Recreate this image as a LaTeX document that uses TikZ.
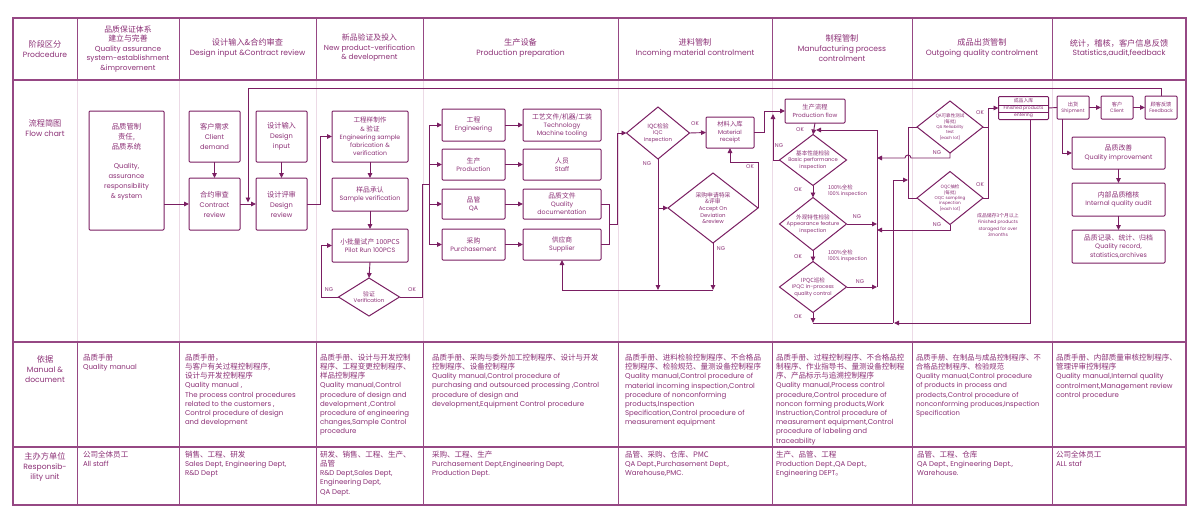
\documentclass[tikz,border=0pt]{standalone}
\usepackage{fontspec}
\setmainfont{Poppins}
\newfontfamily\cjk{Noto Sans CJK SC}[Scale=1.08]
\usetikzlibrary{arrows.meta,shapes.geometric,calc}
\definecolor{ln}{RGB}{122,30,98}
\definecolor{tb}{RGB}{150,72,132}
\definecolor{tx}{RGB}{140,48,118}
\definecolor{lt}{RGB}{236,218,230}
\newcommand{\zh}[1]{{\cjk #1}}
\newcommand{\fs}[2]{\fontsize{#1}{#2}\selectfont}
\begin{document}
\begin{tikzpicture}[x=1pt,y=-1pt,
  every node/.style={text=tx, inner sep=0pt, outer sep=0pt},
  hd/.style={align=center, font=\fs{7.6}{9.6}},
  cell/.style={anchor=north west, align=left, font=\fs{7}{9.2}},
  bx/.style={draw=ln, line width=1pt, rounded corners=1pt, align=center, font=\fs{6.3}{8}},
  sbx/.style={bx, font=\fs{4.6}{5.8}},
  dm/.style={draw=ln, line width=1pt, diamond},
  dt/.style={align=center, font=\fs{5.4}{6.6}},
  sdt/.style={align=center, font=\fs{4.2}{5.3}},
  lbl/.style={font=\fs{5.5}{6.5}},
  cn/.style={draw=ln, line width=0.9pt},
  arr/.style={cn, -{Triangle[length=5pt,width=4.6pt]}}]
\fill[white] (0,0) rectangle (1200,522);
\useasboundingbox (0,0) rectangle (1200,522);
% table
\foreach \x in {77,179,316,423,618,772,912,1052}{
  \draw[tb, line width=1pt] (\x,18) -- (\x,80);
  \draw[lt, line width=1pt] (\x,80) -- (\x,342);
  \draw[tb, line width=1pt] (\x,342) -- (\x,505);}
\draw[tb, line width=1.2pt] (13,80) -- (1186,80);
\draw[tb, line width=1.2pt] (13,342) -- (1186,342);
\draw[tb, line width=1.2pt] (13,447) -- (1186,447);
\draw[tb, line width=1.3pt] (13,18) rectangle (1186,505);
% header
\node[hd] (h1) at (45,49) {\zh{阶段区分}\\Prodcedure};
\node[hd, font=\fs{7.3}{9.5}] (h2) at (128,49) {\zh{品质保证体系}\\\zh{建立与完善}\\Quality assurance\\system-establishment\\\&improvement};
\node[hd] (h3) at (247.5,48) {\zh{设计输入\&合约审查}\\Design input \&Contract review};
\node[hd, font=\fs{7.3}{9.6}] (h4) at (369.5,48) {\zh{新品验证及投入}\\New product-verification\\\& development};
\node[hd] (h5) at (520.5,48) {\zh{生产设备}\\Production preparation};
\node[hd] (h6) at (695,48) {\zh{进料管制}\\Incoming material controlment};
\node[hd] (h7) at (842,48) {\zh{制程管制}\\Manufacturing process\\controlment};
\node[hd] (h8) at (982,48) {\zh{成品出货管制}\\Outgoing quality controlment};
\node[hd] (h9) at (1119,48) {\zh{统计，稽核，客户信息反馈}\\Statistics,audit,feedback};
\node[hd] (r2) at (45,128) {\zh{流程简图}\\Flow chart};
\node[hd] (r3) at (45,369) {\zh{依据}\\Manual \&\\document};
\node[hd] (r4) at (45,467) {\zh{主办方单位}\\Responsib-\\ility unit};
% manual row
\node[cell] (m2) at (83,354) {\zh{品质手册}\\Quality manual};
\node[cell] (m3) at (185,354) {\zh{品质手册，}\\\zh{与客户有关过程控制程序,}\\\zh{设计与开发控制程序}\\Quality manual ,\\The process control procedures\\related to the customers ,\\Control procedure of design\\and development};
\node[cell] (m4) at (320,354) {\zh{品质手册、设计与开发控制}\\\zh{程序、工程变更控制程序、}\\\zh{样品控制程序}\\Quality manual,Control\\procedure of design and\\development ,Control\\procedure of engineering\\changes,Sample Control\\procedure};
\node[cell] (m5) at (432,354) {\zh{品质手册、采购与委外加工控制程序、设计与开发}\\\zh{控制程序、设备控制程序}\\Quality manual,Control procedure of\\purchasing and outsourced processing ,Control\\procedure of design and\\development,Equipment Control procedure};
\node[cell] (m6) at (625,354) {\zh{品质手册、进料检验控制程序、不合格品}\\\zh{控制程序、检验规范、量测设备控制程序}\\Quality manual,Control procedure of\\material incoming inspection,Control\\procedure of nonconforming\\products,Inspection\\Specification,Control procedure of\\measurement equipment};
\node[cell] (m7) at (776,354) {\zh{品质手册、过程控制程序、不合格品控}\\\zh{制程序、作业指导书、量测设备控制程}\\\zh{序、产品标示与追溯控制程序}\\Quality manual,Process control\\procedure,Control procedure of\\noncon forming products,Work\\Instruction,Control procedure of\\measurement equipment,Control\\procedure of labeling and\\traceability};
\node[cell, font=\fs{6.8}{9.2}] (m8) at (916,354) {\zh{品质手册、在制品与成品控制程序、不}\\\zh{合格品控制程序、检验规范}\\Quality manual,Control procedure\\of products in process and\\prodects,Control procedure of\\nonconforming produces,Inspection\\Specification};
\node[cell] (m9) at (1056,354) {\zh{品质手册、内部质量审核控制程序、}\\\zh{管理评审控制程序}\\Quality manual,Internal quality\\controlment,Management review\\control procedure};
% responsibility row
\node[cell] (s2) at (83,451) {\zh{公司全体员工}\\All staff};
\node[cell] (s3) at (185,451) {\zh{销售、工程、研发}\\Sales Dept, Engineering Dept,\\R\&D Dept};
\node[cell] (s4) at (320,451) {\zh{研发、销售、工程、生产、}\\\zh{品管}\\R\&D Dept,Sales Dept,\\Engineering Dept,\\QA Dept.};
\node[cell] (s5) at (432,451) {\zh{采购、工程、生产}\\Purchasement Dept,Engineering Dept,\\Production Dept.};
\node[cell] (s6) at (625,451) {\zh{品管、采购、仓库、PMC}\\QA Dept.,Purchasement Dept.,\\Warehouse,PMC.};
\node[cell] (s7) at (776,451) {\zh{生产、品管、工程}\\Production Dept.,QA Dept.,\\Engineering DEPT\zh{。}};
\node[cell] (s8) at (917,451) {\zh{品管、工程、仓库}\\QA Dept., Engineering Dept.,\\Warehouse.};
\node[cell] (s9) at (1056,451) {\zh{公司全体员工}\\ALL staf};
% ---- flow chart ----
% col 2
\node[bx, minimum width=75, minimum height=119] (qa) at (126.5,170.5) {};
\node[align=center, font=\fs{6.8}{10}] (qat) at (126.5,162) {\zh{品质管制}\\\zh{责任,}\\\zh{品质系统}\\[9pt]Quality,\\assurance\\responsibility\\\& system};
% col 3
\node[bx, minimum width=51, minimum height=51, font=\fs{6.7}{10}] (cd) at (214.5,136.5) {\zh{客户需求}\\Client\\demand};
\node[bx, minimum width=51, minimum height=52, font=\fs{6.7}{10}] (cr) at (214.5,204) {\zh{合约审查}\\Contract\\review};
\node[bx, minimum width=51, minimum height=51, font=\fs{6.7}{10}] (di) at (281.5,136.5) {\zh{设计输入}\\Design\\input};
\node[bx, minimum width=51, minimum height=52, font=\fs{6.7}{10}] (dr) at (281.5,204) {\zh{设计评审}\\Design\\review};
% col 4
\node[bx, minimum width=76, minimum height=51, font=\fs{6.1}{8.2}] (es) at (370,136.5) {\zh{工程样制作}\\\& \zh{验证}\\Engineering sample\\fabrication \&\\verification};
\node[bx, minimum width=76, minimum height=33] (sv) at (370,194.5) {\zh{样品承认}\\Sample verification};
\node[bx, minimum width=76, minimum height=33] (pr) at (370,245.5) {\zh{小批量试产 100PCS}\\Pilot Run 100PCS};
\node[dm, minimum width=61, minimum height=38] (ver) at (369,297) {};
\node[dt] (vert) at (ver) {\zh{验证}\\Verification};
% col 5
\node[bx, minimum width=63, minimum height=32] (eng) at (473.5,125) {\zh{工程}\\Engineering};
\node[bx, minimum width=63, minimum height=31] (prod) at (473.5,164.5) {\zh{生产}\\Production};
\node[bx, minimum width=63, minimum height=30] (qa2) at (473.5,204) {\zh{品管}\\QA};
\node[bx, minimum width=63, minimum height=31] (pur) at (473.5,244.5) {\zh{采购}\\Purchasement};
\node[bx, minimum width=78, minimum height=32] (tech) at (562,125) {\zh{工艺文件/机器/工装}\\Technology\\Machine tooling};
\node[bx, minimum width=78, minimum height=31] (staff) at (562,164.5) {\zh{人员}\\Staff};
\node[bx, minimum width=78, minimum height=30] (qdoc) at (562,204) {\zh{品质文件}\\Quality\\documentation};
\node[bx, minimum width=78, minimum height=31] (sup) at (562,244.5) {\zh{供应商}\\Supplier};
% col 6
\node[dm, minimum width=63, minimum height=52] (iqc) at (658,133) {};
\node[dt] (iqct) at (iqc) {\zh{IQC检验}\\IQC\\Inspection};
\node[bx, minimum width=48, minimum height=31, font=\fs{5.8}{7.4}] (mr) at (730,132.5) {\zh{材料入库}\\Material\\receipt};
\node[dm, minimum width=90, minimum height=70] (aod) at (713,208) {};
\node[dt] (aodt) at (aod) {\zh{采购申请特采}\\\zh{\&评审}\\Accept On\\Deviation\\\&review};
% col 7
\node[bx, minimum width=60, minimum height=24, font=\fs{5.8}{7.4}] (pf) at (815,111) {\zh{生产流程}\\Production flow};
\node[dm, minimum width=67, minimum height=51] (d1) at (813,160) {};
\node[dt, font=\fs{5.2}{6.6}] (d1t) at (d1) {\zh{基本性能检验}\\Basic performance\\inspection};
\node[dm, minimum width=67, minimum height=53] (d2) at (813,224) {};
\node[dt, font=\fs{5.2}{6.6}] (d2t) at (d2) {\zh{外观特性检验}\\Appearance feature\\inspection};
\node[dm, minimum width=67, minimum height=51] (d3) at (813,287) {};
\node[dt, font=\fs{5.2}{6.6}] (d3t) at (d3) {\zh{IPQC巡检}\\IPQC in-process\\quality control};
% col 8
\node[dm, minimum width=66, minimum height=52] (rel) at (950,127) {};
\node[sdt] (relt) at (rel) {\zh{QA可靠性测试}\\\zh{(每批)}\\QA Reliability\\test\\(each lot)};
\node[dm, minimum width=66, minimum height=53] (oqc) at (950,198) {};
\node[sdt] (oqct) at (oqc) {\zh{OQC抽检}\\\zh{(每批)}\\OQC sampling\\inspection\\(each lot)};
\node[sbx, minimum width=50, minimum height=23, font=\fs{4.5}{7}] (fp) at (1023.5,108) {\zh{成品入库}\\Finished products\\entering};
\draw[ln, line width=0.6pt] ($(fp.north west)+(0,8.5)$) -- ($(fp.north east)+(0,8.5)$);
\draw[ln, line width=0.6pt] ($(fp.north west)+(0,16)$) -- ($(fp.north east)+(0,16)$);
\node[sdt, font=\fs{4.5}{6.3}] (stor) at (998,225) {\zh{成品储存3个月以上}\\Finished products\\storaged for over\\3months};
% col 9
\node[sbx, minimum width=32, minimum height=23, font=\fs{4.8}{6}] (sh) at (1073,107.5) {\zh{出货}\\Shipment};
\node[sbx, minimum width=32, minimum height=23, font=\fs{4.8}{6}] (cl) at (1117,107.5) {\zh{客户}\\Client};
\node[sbx, minimum width=32, minimum height=23, font=\fs{4.8}{6}] (fb) at (1161,107.5) {\zh{顾客反馈}\\Feedback};
\node[bx, minimum width=93, minimum height=32, font=\fs{6.4}{8.5}] (qi) at (1118.5,153) {\zh{品质改善}\\Quality improvement};
\node[bx, minimum width=93, minimum height=33, font=\fs{6.4}{8.5}] (ia) at (1118.5,199.5) {\zh{内部品质稽核}\\Internal quality audit};
\node[bx, minimum width=93, minimum height=33, font=\fs{6.4}{8.5}] (qr) at (1118.5,246.5) {\zh{品质记录、统计、归档}\\Quality record,\\statistics,archives};
% ---- connectors ----
\coordinate (ftop) at (0,88);
\coordinate (fbin) at ($(cr.east)!0.5!(dr.west)$);
\draw[arr] (qa.east |- cr.west) -- (cr.west);
\draw[arr] (cd.south) -- (cr.north);
\draw[arr] (di.south) -- (dr.north);
\draw[arr] (cr.east) -- (dr.west);
\draw[arr] (fb.north) |- (fbin |- ftop) -- ($(fbin)+(0,-1.5)$);
\draw[arr] (dr.east) -- ++(13,0) |- (es.west);
\draw[arr] (es.south) -- (sv.north);
\draw[arr] (sv.south) -- (pr.north);
\draw[arr] (pr.south) -- (ver.north);
\draw[arr] (ver.west) -- ++(-17,0) |- (pr.west);
\coordinate (busx) at (429,0);
\coordinate (okin) at (429,184);
\draw[cn] (ver.east) -- ++(23,0) |- (okin);
\draw[cn] (eng.west -| busx) -- (pur.west -| busx);
\foreach \n in {eng,prod,qa2,pur}{\draw[arr] (\n.west -| busx) -- (\n.west);}
\draw[arr] (eng.east) -- (tech.west);
\draw[arr] (prod.east) -- (staff.west);
\draw[arr] (qa2.east) -- (qdoc.west);
\draw[arr] (pur.east) -- (sup.west);
\coordinate (mx) at (609,0);
\draw[cn] (qdoc.east) -- (qdoc.east -| mx) -- (sup.east -| mx) -- (sup.east);
\coordinate (mmid) at ($(qdoc.east -| mx)!0.5!(sup.east -| mx)$);
\draw[arr] (mmid) -- ++(8,0) |- (iqc.west);
\draw[arr] (iqc.east) -- (mr.west);
\coordinate (botL) at (562,290);
\draw[arr] (iqc.south) -- (iqc.south |- botL);
\draw[arr] (iqc.south |- aod.west) -- (aod.west);
\coordinate (aodk) at (758,162);
\draw[arr] (aod.east) -- (aodk) -| (mr.south);
\draw[arr] (aod.south) -- (aod.south |- botL);
\draw[arr] (aod.south |- botL) -- (botL) -- (sup.south);
\draw[arr] (mr.east) -- ++(10,0) |- (pf.west);
\draw[arr] (pf.south) -- (d1.north);
\draw[arr] (d1.south) -- (d2.north);
\draw[arr] (d2.south) -- (d3.north);
\coordinate (rwT) at (877,130);
\coordinate (nga) at (773,114);
\draw[arr] (d1.west) -| (nga);
\draw[cn] (rwT) -- (d3.east -| rwT);
\draw[arr] (rwT) -- ($(pf.south |- rwT)+(1,0)$);
\draw[arr] (d2.east) -- (d2.east -| rwT);
\draw[arr] (d3.east) -- (d3.east -| rwT);
\coordinate (okB) at (813,323);
\coordinate (x893) at (893,323);
\coordinate (busO) at (908,180);
\draw[arr] (d3.south) -- (okB);
\draw[cn] (okB) -- (x893);
\coordinate (fps) at ($(fp.south east)+(-18,0)$);
\draw[arr] (fps) |- ($(x893)+(1,0)$);
\draw[arr] (x893) -- (x893 |- busO) -- (busO);
\draw[cn] (busO |- rel.west) -- (busO |- oqc.west);
\draw[cn] (busO |- rel.west) -- (rel.west);
\draw[cn] (busO |- oqc.west) -- (oqc.west);
\coordinate (okx) at (988,0);
\draw[arr] (rel.east) -- (rel.east -| okx) |- (fp.west);
\draw[cn] (oqc.east) -- (oqc.east -| okx) -- (rel.east -| okx);
\coordinate (rn) at (950,158);
\coordinate (on) at (950,230);
\draw[arr] (rel.south) -- (rn) -- ($(busO |- rn)+(3,0)$) arc[start angle=0, end angle=-180, radius=3] -- (rn -| rwT);
\draw[arr] (oqc.south) -- (on) -- (on -| rwT);
\draw[cn] (fp.east) -- (sh.west);
\draw[arr] (sh.east) -- (cl.west);
\draw[arr] (cl.east) -- (fb.west);
\draw[arr] ($(sh.south west)+(5,0)$) |- (qi.west);
\draw[arr] (qi.south) -- (ia.north);
\draw[arr] (ia.south) -- (qr.north);
% labels
\node[lbl] (l1) at (329,290) {NG};
\node[lbl] (l2) at (412,290) {OK};
\node[lbl] (l3) at (695,124) {OK};
\node[lbl] (l4) at (647,164) {NG};
\node[lbl] (l5) at (750,167) {OK};
\node[lbl] (l6) at (721,249) {NG};
\node[lbl] (l7) at (800,130) {OK};
\node[lbl] (l8) at (779,146) {NG};
\node[lbl] (l9) at (798,190) {OK};
\node[lbl, align=left, anchor=west, font=\fs{5}{6}] (l10) at (828,191) {\zh{100\%全检}\\100\% inspection};
\node[lbl] (l11) at (857,217) {NG};
\node[lbl] (l12) at (798,257) {OK};
\node[lbl, align=left, anchor=west, font=\fs{5}{6}] (l13) at (828,256) {\zh{100\%全检}\\100\% inspection};
\node[lbl] (l14) at (860,282) {NG};
\node[lbl] (l15) at (798,317) {OK};
\node[lbl] (l16) at (980,113) {OK};
\node[lbl] (l17) at (980,185) {OK};
\node[lbl] (l18) at (937,153) {NG};
\node[lbl] (l19) at (937,225) {NG};
\end{tikzpicture}
\end{document}
